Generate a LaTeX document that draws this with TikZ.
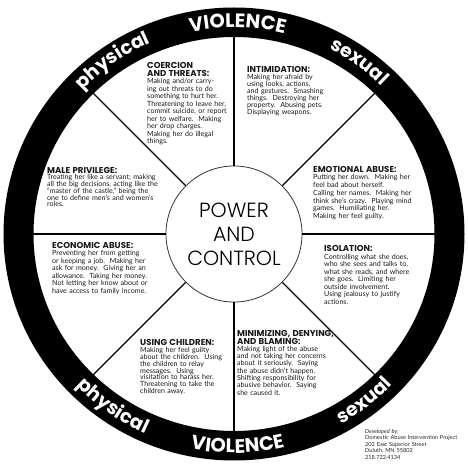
\documentclass[tikz,border=0pt]{standalone}
\usepackage{fontspec}
\setmainfont{Lato}
\newfontfamily\popfont{Poppins}
\newfontfamily\poplight{Poppins Light}
\usetikzlibrary{decorations.text}
\newcommand{\hd}[1]{{\popfont\bfseries\fontsize{8.6}{8.6}\selectfont #1}}
\newcommand{\ringfont}{\popfont\bfseries\fontsize{19.5}{19.5}\selectfont}
\newcommand{\ringfontb}{\popfont\bfseries\fontsize{19}{19}\selectfont}
\newcommand{\blkfont}[1]{\fontsize{7.1}{#1}\selectfont\lineskiplimit -10pt\relax}
\begin{document}
\begin{tikzpicture}[
  blocktext/.style={anchor=base west, inner sep=0pt, text width=140pt, align=left,
    font={\blkfont{#1}}, text=black!90},
  spoke/.style={line width=1.1pt, black},
  ringtext/.style={decorate, decoration={text along path, text align=center, text color=white, text={#1}}},
]
\useasboundingbox (-234pt,-231pt) rectangle (234pt,234pt);
% centre
\node[circle, draw=black!80, line width=0.8pt, minimum size=136pt, inner sep=0pt, align=center,
  font=\poplight\fontsize{20.5}{24}\selectfont] (pc) at (0,0) {POWER\\AND\\CONTROL};
% spokes (ends hidden under the ring)
\foreach \a in {0,45,...,315}{
  \coordinate (r\a) at (\a:210pt);
  \draw[spoke] (pc.\a) -- (r\a);
}
% ring
\fill[black, even odd rule] (0,0) ellipse[x radius=230.5pt, y radius=226.5pt]
  (0,0) ellipse[x radius=200.5pt, y radius=197pt];
% ring texts
\path[ringtext={|\ringfont|VIOLENCE}] (114:206.5pt) arc[start angle=114, end angle=64, radius=206.5pt];
\path[ringtext={|\ringfontb|physical}] (150:208.5pt) arc[start angle=150, end angle=100, radius=208.5pt];
\path[ringtext={|\ringfontb|sexual}] (79:208.5pt) arc[start angle=79, end angle=29, radius=208.5pt];
\path[ringtext={|\ringfont|VIOLENCE}] (246:219pt) arc[start angle=246, end angle=296, radius=219pt];
\path[ringtext={|\ringfontb|physical}] (210:218.5pt) arc[start angle=210, end angle=260, radius=218.5pt];
\path[ringtext={|\ringfontb|sexual}] (283:218.5pt) arc[start angle=283, end angle=333, radius=218.5pt];
% text blocks
\begin{scope}[x=1pt,y=-1pt,shift={(-234,-234)}]
\node[blocktext=7.5] (coer) at (147,69) {\hd{COERCION\\AND THREATS:}\\
Making and/or carry-\\ing out threats to do\\something to hurt her.\\Threatening to leave her,\\commit suicide, or report\\her to welfare.\ \ Making\\her drop charges.\\Making her do illegal\\things.};
\node[blocktext=7] (intim) at (247,73) {\hd{INTIMIDATION:}\\
Making her afraid by\\using looks, actions,\\and gestures.\ \ Smashing\\things.\ \ Destroying her\\property.\ \ Abusing pets.\\Displaying weapons.};
\node[blocktext=6.7] (male) at (47,173.3) {\hd{MALE PRIVILEGE:}\\
Treating her like a servant; making\\all the big decisions, acting like the\\``master of the castle,'' being the\\one to define men's and women's\\roles.};
\node[blocktext=7.5] (econ) at (52,248.3) {\hd{ECONOMIC ABUSE:}\\
Preventing her from getting\\or keeping a job.\ \ Making her\\ask for money.\ \ Giving her an\\allowance.\ \ Taking her money.\\Not letting her know about or\\have access to family income.};
\node[blocktext=7.7] (emot) at (313,172.3) {\hd{EMOTIONAL ABUSE:}\\
Putting her down.\ \ Making her\\feel bad about herself.\\Calling her names.\ \ Making her\\think she's crazy.\ \ Playing mind\\games.\ \ Humiliating her.\\Making her feel guilty.};
\node[blocktext=7.5] (isol) at (324,251.7) {\hd{ISOLATION:}\\
Controlling what she does,\\who she sees and talks to,\\what she reads, and where\\she goes.\ \ Limiting her\\outside involvement.\\Using jealousy to justify\\actions.};
\node[blocktext=6.8] (child) at (140,346) {\hd{USING CHILDREN:}\\
Making her feel guilty\\about the children.\ \ Using\\the children to relay\\messages.\ \ Using\\visitation to harass her.\\Threatening to take the\\children away.};
\node[blocktext=7.3] (mini) at (237,336.7) {\hd{MINIMIZING, DENYING,\\AND BLAMING:}\\
Making light of the abuse\\and not taking her concerns\\about it seriously.\ \ Saying\\the abuse didn't happen.\\Shifting responsibility for\\abusive behavior.\ \ Saying\\she caused it.};
\node[anchor=base west, inner sep=0pt, text width=110pt, align=left,
  font=\fontsize{5.6}{6.6}\selectfont, text=black!85] (dev) at (365,433)
  {\textit{Developed by:}\\Domestic Abuse Intervention Project\\202 East Superior Street\\Duluth, MN 55802\\218.722.4134};
\end{scope}
\end{tikzpicture}
\end{document}
